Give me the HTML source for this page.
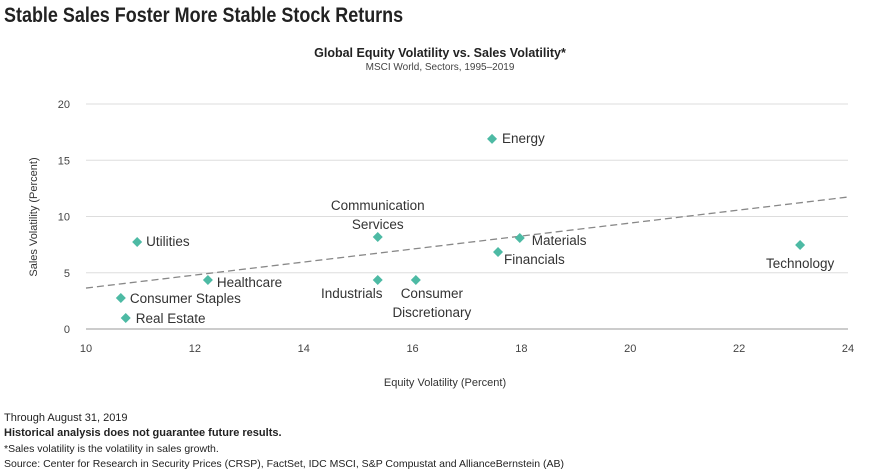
<!DOCTYPE html>
<html><head><meta charset="utf-8"><style>
body{margin:0;width:880px;height:473px;background:#fff;font-family:"Liberation Sans",sans-serif;color:#222;overflow:hidden;position:relative}
.t{position:absolute;white-space:nowrap}
</style></head><body>
<div class="t" style="left:4px;top:4px;font-weight:bold;font-size:21px;color:#222;transform:scaleX(0.855);transform-origin:0 0">Stable Sales Foster More Stable Stock Returns</div>
<div class="t" style="left:0;width:880px;text-align:center;top:46px;font-weight:bold;font-size:12.5px">Global Equity Volatility vs. Sales Volatility*</div>
<div class="t" style="left:0;width:880px;text-align:center;top:62px;font-size:10px;color:#444">MSCI World, Sectors, 1995–2019</div>
<svg id="chart" width="880" height="400" style="position:absolute;left:0;top:0" font-family="Liberation Sans, sans-serif"></svg>
<div class="t" style="left:4px;top:412px;font-size:11px">Through August 31, 2019</div>
<div class="t" style="left:4px;top:427px;font-size:11px;font-weight:bold">Historical analysis does not guarantee future results.</div>
<div class="t" style="left:4px;top:443px;font-size:10.5px">*Sales volatility is the volatility in sales growth.</div>
<div class="t" style="left:4px;top:458px;font-size:10.5px">Source: Center for Research in Security Prices (CRSP), FactSet, IDC MSCI, S&amp;P Compustat and AllianceBernstein (AB)</div>
<script>
const sectors=["Energy","Utilities","Healthcare","Consumer Staples","Real Estate","Communication Services","Industrials","Consumer Discretionary","Materials","Financials","Technology"];
const equityVol=[17.46,10.94,12.24,10.64,10.73,15.36,15.36,16.06,17.97,17.57,23.12];
const salesVol=[16.9,7.73,4.36,2.76,0.98,8.18,4.36,4.36,8.09,6.84,7.47];
const xTicks=[10,12,14,16,18,20,22,24];
const yTicks=[0,5,10,15,20];
const trendX=[10,24];
const trendY=[3.64,11.73];
const NS="http://www.w3.org/2000/svg",svg=document.getElementById('chart');
const X=v=>86+(v-10)*(848-86)/14, Y=v=>329-v*(329-104)/20;
function mk(t,a,txt){const e=document.createElementNS(NS,t);for(const k in a)e.setAttribute(k,a[k]);if(txt!=null)e.textContent=txt;svg.appendChild(e);return e;}
yTicks.forEach(v=>{
 const g=mk('line',{x1:86,x2:848,y1:Y(v),y2:Y(v),stroke:v===0?'#999':'#ddd','stroke-width':1});
 
 
 const t=mk('text',{x:70,y:Y(v)+4,'text-anchor':'end','font-size':11,fill:'#444'},v);
 
 
});
xTicks.forEach(v=>{
 const t=mk('text',{x:X(v),y:352,'text-anchor':'middle','font-size':11,fill:'#444'},v);
 
 
});
const xt=mk('text',{x:445,y:386,'text-anchor':'middle','font-size':11,fill:'#333'},'Equity Volatility (Percent)');


const yt=mk('text',{x:0,y:0,'text-anchor':'middle','font-size':11,fill:'#333',transform:'translate(37,217) rotate(-90)'},'Sales Volatility (Percent)');


const tl=mk('line',{x1:X(trendX[0]),y1:Y(trendY[0]),x2:X(trendX[1]),y2:Y(trendY[1]),stroke:'#888','stroke-width':1.3,'stroke-dasharray':'7,4'});


const lab={"Energy":[[10,4,'start']],"Utilities":[[9,4,'start']],"Healthcare":[[9,7,'start']],"Consumer Staples":[[9,5,'start']],"Real Estate":[[10,5,'start']],"Communication Services":[[0,-27,'middle'],[0,-8,'middle']],"Industrials":[[-26,18,'middle']],"Consumer Discretionary":[[16,18,'middle'],[16,37,'middle']],"Materials":[[12,7,'start']],"Financials":[[6,12,'start']],"Technology":[[0,23,'middle']]};
sectors.forEach((s,i)=>{
 const cx=X(equityVol[i]),cy=Y(salesVol[i]);
 const p=mk('path',{d:`M${cx} ${cy-5}L${cx+5} ${cy}L${cx} ${cy+5}L${cx-5} ${cy}Z`,fill:'#4dbaa4'});
 
 
 const parts=lab[s].length===2?s.split(' '):[s];
 lab[s].forEach((o,j)=>{
  const t=mk('text',{x:cx+o[0],y:cy+o[1],'text-anchor':o[2],'font-size':13.5,fill:'#333'},parts[j]);
  
  
 });
});
</script>
</body></html>
